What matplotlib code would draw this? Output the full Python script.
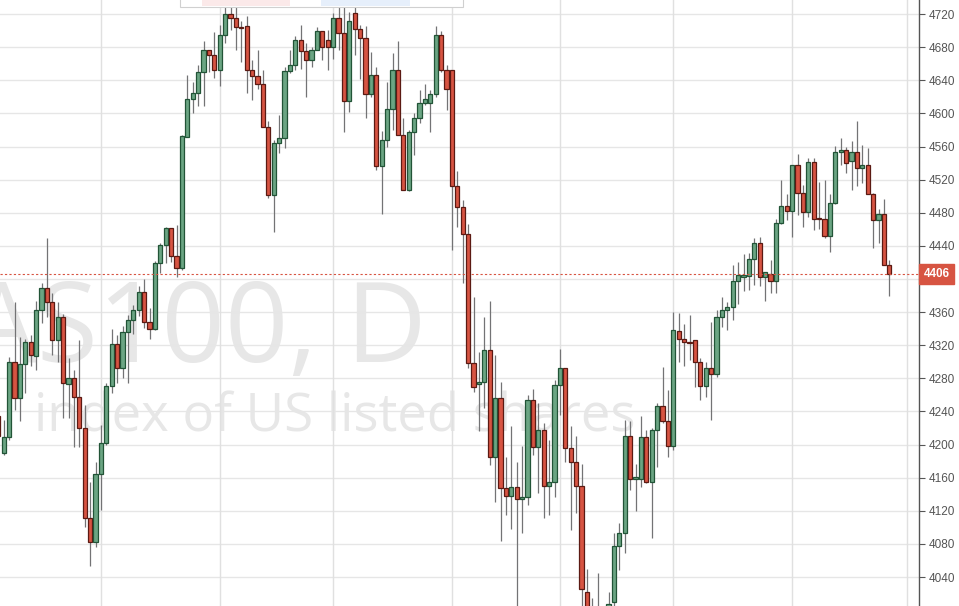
import matplotlib
matplotlib.use('Agg')  # sin GUI
import matplotlib.pyplot as plt
from matplotlib.patches import Rectangle
import matplotlib.transforms as mtransforms

# Velas diarias NAS100
opens = [4235, 4190, 4209, 4300, 4256, 4297, 4324, 4307, 4363, 4389,
         4372, 4326, 4354, 4273, 4280, 4258, 4220, 4111, 4082, 4164,
         4202, 4271, 4322, 4292, 4336, 4350, 4363, 4384, 4348, 4340,
         4419, 4441, 4461, 4428, 4413, 4572, 4618, 4625, 4650, 4676,
         4671, 4653, 4695, 4720, 4715, 4704, 4705, 4652, 4645, 4635,
         4583, 4502, 4564, 4570, 4651, 4659, 4689, 4675, 4664, 4677,
         4699, 4689, 4680, 4715, 4697, 4615, 4721, 4702, 4691, 4623,
         4646, 4537, 4568, 4605, 4652, 4574, 4507, 4577, 4594, 4612,
         4612, 4623, 4695, 4653, 4653, 4512, 4487, 4454, 4299, 4273,
         4275, 4314, 4185, 4256, 4147, 4138, 4149, 4134, 4137, 4254,
         4197, 4218, 4150, 4155, 4272, 4292, 4196, 4179, 4150, 4022,
         3995, 3990, 3995, 3995, 4010, 4077, 4093, 4210, 4158, 4159,
         4209, 4155, 4218, 4246, 4228, 4198, 4337, 4327, 4324, 4326,
         4300, 4271, 4293, 4285, 4354, 4363, 4366, 4398, 4403, 4404,
         4424, 4444, 4402, 4406, 4397, 4468, 4488, 4482, 4538, 4504,
         4481, 4541, 4474, 4473, 4452, 4492, 4553, 4556, 4542, 4553,
         4534, 4538, 4503, 4471, 4478, 4417]
highs = [4240, 4230, 4306, 4372, 4330, 4327, 4332, 4373, 4395, 4450,
         4383, 4372, 4358, 4305, 4290, 4326, 4248, 4155, 4179, 4224,
         4274, 4339, 4332, 4343, 4356, 4368, 4391, 4400, 4365, 4422,
         4443, 4463, 4462, 4465, 4574, 4646, 4638, 4658, 4687, 4677,
         4698, 4707, 4729, 4729, 4729, 4712, 4718, 4665, 4677, 4652,
         4591, 4568, 4598, 4656, 4677, 4693, 4707, 4685, 4680, 4704,
         4700, 4701, 4721, 4729, 4729, 4723, 4729, 4707, 4705, 4674,
         4656, 4579, 4638, 4673, 4687, 4594, 4580, 4600, 4628, 4635,
         4628, 4705, 4699, 4658, 4653, 4530, 4495, 4466, 4378, 4312,
         4354, 4373, 4308, 4276, 4185, 4222, 4179, 4198, 4260, 4267,
         4250, 4226, 4206, 4278, 4316, 4293, 4222, 4210, 4177, 4050,
         4015, 4045, 4004, 4022, 4093, 4105, 4230, 4228, 4177, 4234,
         4218, 4220, 4250, 4294, 4266, 4360, 4359, 4346, 4357, 4326,
         4304, 4300, 4348, 4363, 4378, 4372, 4417, 4421, 4430, 4431,
         4450, 4451, 4409, 4423, 4472, 4520, 4503, 4538, 4551, 4513,
         4546, 4546, 4517, 4519, 4503, 4561, 4570, 4560, 4567, 4591,
         4562, 4558, 4504, 4485, 4497, 4423]
lows = [4205, 4188, 4205, 4242, 4228, 4262, 4295, 4290, 4347, 4354,
        4308, 4300, 4232, 4232, 4197, 4197, 4101, 4053, 4076, 4121,
        4200, 4262, 4274, 4280, 4274, 4334, 4355, 4341, 4327, 4338,
        4407, 4419, 4420, 4403, 4411, 4571, 4600, 4609, 4609, 4650,
        4643, 4633, 4685, 4701, 4677, 4662, 4625, 4616, 4630, 4583,
        4498, 4457, 4552, 4558, 4649, 4653, 4654, 4620, 4656, 4677,
        4664, 4652, 4666, 4677, 4578, 4602, 4670, 4642, 4594, 4620,
        4532, 4478, 4560, 4580, 4574, 4507, 4506, 4550, 4588, 4610,
        4578, 4620, 4650, 4604, 4435, 4463, 4395, 4292, 4263, 4216,
        4244, 4175, 4131, 4083, 4115, 4098, 3990, 4093, 4127, 4187,
        4141, 4111, 4115, 4137, 4236, 4179, 4097, 4117, 4000, 3985,
        3980, 3980, 3975, 3990, 4005, 4048, 4069, 4145, 4120, 4149,
        4154, 4087, 4173, 4226, 4185, 4193, 4300, 4295, 4302, 4270,
        4254, 4258, 4230, 4282, 4342, 4338, 4350, 4370, 4386, 4387,
        4393, 4391, 4373, 4383, 4383, 4466, 4471, 4451, 4477, 4463,
        4475, 4459, 4460, 4450, 4433, 4491, 4538, 4528, 4507, 4512,
        4516, 4503, 4437, 4443, 4417, 4379]
closes = [4210, 4209, 4300, 4256, 4297, 4324, 4308, 4363, 4389, 4372,
          4326, 4354, 4274, 4280, 4258, 4220, 4111, 4082, 4164, 4202,
          4271, 4322, 4292, 4336, 4350, 4363, 4384, 4348, 4340, 4419,
          4441, 4461, 4428, 4413, 4573, 4618, 4625, 4650, 4676, 4671,
          4652, 4695, 4720, 4715, 4704, 4703, 4652, 4645, 4635, 4583,
          4502, 4564, 4570, 4651, 4659, 4689, 4675, 4664, 4677, 4699,
          4680, 4680, 4715, 4697, 4615, 4712, 4702, 4691, 4623, 4646,
          4537, 4568, 4605, 4652, 4574, 4507, 4577, 4594, 4612, 4618,
          4623, 4695, 4653, 4629, 4512, 4487, 4454, 4299, 4269, 4276,
          4314, 4185, 4256, 4147, 4138, 4149, 4134, 4137, 4254, 4197,
          4218, 4150, 4155, 4272, 4292, 4196, 4179, 4150, 4025, 3995,
          3990, 4000, 4003, 4007, 4077, 4093, 4210, 4158, 4161, 4209,
          4155, 4218, 4246, 4228, 4198, 4338, 4327, 4324, 4323, 4300,
          4271, 4293, 4285, 4354, 4363, 4366, 4398, 4405, 4405, 4424,
          4444, 4402, 4408, 4397, 4468, 4488, 4482, 4538, 4504, 4481,
          4541, 4473, 4472, 4452, 4492, 4553, 4556, 4540, 4553, 4534,
          4538, 4503, 4471, 4478, 4417, 4406]

price_ticks = list(range(4040, 4721, 40))
month_lines = [19, 41, 62, 84, 104, 125, 147, 168.2]
last_price = 4406

# colores clásicos de TradingView
UP, DOWN = '#6ba583', '#d75442'
UP_EDGE, DOWN_EDGE = '#225437', '#5b1a13'
WICK = '#737375'

W, H = 959, 606
fig = plt.figure(figsize=(W / 100, H / 100), dpi=100)
ax = fig.add_axes([0, 0, 919 / W, 1])
ax.set_xlim(0.3, 170.5)
ax.set_ylim(4005, 4737)

# Marca de agua (cortada por la izquierda, como en la captura)
ax.text(427 / W, 1 - 362 / H, 'NAS100, D', transform=fig.transFigure,
        ha='right', va='baseline', fontsize=80, color='#e7e7e7',
        family='Open Sans', zorder=0)
ax.text(636 / W, 1 - 432 / H, 'index of US listed shares',
        transform=fig.transFigure, ha='right', va='baseline', fontsize=38,
        color='#e7e7e7', family='Open Sans', zorder=0)

# Rejilla
for p in price_ticks:
    ax.axhline(p, color='#e6e6e6', lw=1, zorder=0.5)
for m in month_lines:
    ax.axvline(m, color='#e0e0e0', lw=1, zorder=0.5)

# Velas
xs = list(range(len(opens)))
ax.vlines(xs, lows, highs, color=WICK, lw=0.9, zorder=2)
for x, o, h, l, c in zip(xs, opens, highs, lows, closes):
    up = c >= o
    bottom = min(o, c)
    height = max(abs(c - o), 0.8)
    ax.add_patch(Rectangle((x - 0.39, bottom), 0.78, height,
                           facecolor=UP if up else DOWN,
                           edgecolor=UP_EDGE if up else DOWN_EDGE,
                           lw=0.9, zorder=3))

# Línea del último precio y su etiqueta
ax.axhline(last_price, color=DOWN, lw=0.8, ls=(0, (2, 2)), zorder=4)
trans = mtransforms.blended_transform_factory(ax.transAxes, ax.transData)
ax.text(1.005, last_price, '%d' % last_price, transform=trans, ha='left',
        va='center', color='white', fontsize=8.5, family='Liberation Sans',
        fontweight='bold', clip_on=False, zorder=10,
        bbox=dict(boxstyle='square,pad=0.35', fc=DOWN, ec=DOWN))

# Eje de precios a la derecha (la etiqueta 4400 queda tapada por la del precio)
ax.yaxis.tick_right()
ax.set_yticks(price_ticks)
ax.set_yticklabels(['' if p == 4400 else str(p) for p in price_ticks])
ax.tick_params(axis='y', length=4, width=0.8, color='#555555',
               labelcolor='#555555', labelsize=8.5, pad=3)
for lab in ax.get_yticklabels():
    lab.set_family('Liberation Sans')
ax.set_xticks([])
for side in ['top', 'left', 'bottom']:
    ax.spines[side].set_visible(False)
ax.spines['right'].set_color('#555555')
ax.spines['right'].set_linewidth(1)

# Trozo de la barra de herramientas arriba
fig.patches.append(Rectangle((180 / W, 1 - 7 / H), 283 / W, 10 / H,
                             transform=fig.transFigure, fc='white',
                             ec='#d0d0d0', lw=0.8, zorder=20))
fig.patches.append(Rectangle((202 / W, 1 - 6 / H), 88 / W, 8 / H,
                             transform=fig.transFigure, fc='#fbe9e9',
                             ec='none', zorder=21))
fig.patches.append(Rectangle((321 / W, 1 - 6 / H), 89 / W, 8 / H,
                             transform=fig.transFigure, fc='#e6effb',
                             ec='none', zorder=21))

plt.savefig('out.png', dpi=100)
plt.close()
